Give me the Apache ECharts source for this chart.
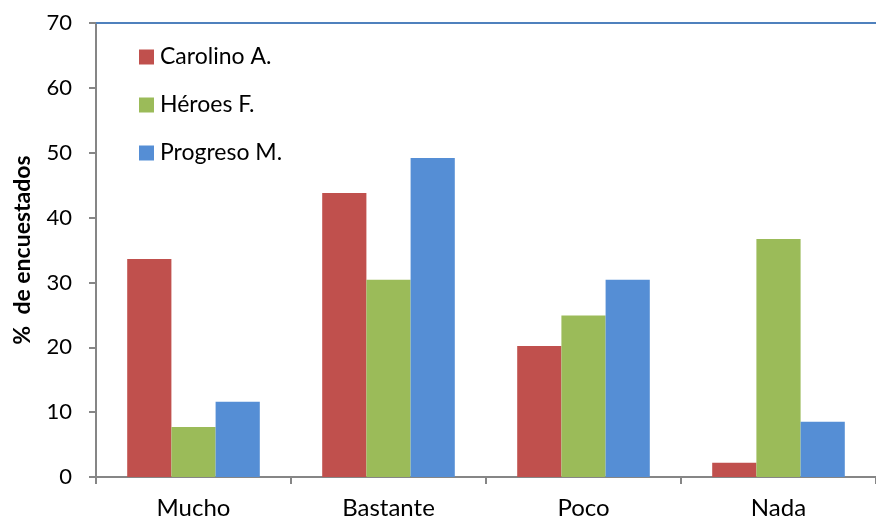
<!DOCTYPE html>
<html><head><meta charset="utf-8">
<script src="https://cdn.jsdelivr.net/npm/echarts@6/dist/echarts.min.js"></script>
<style>html,body{margin:0;padding:0;background:#fff}#c{width:876px;height:523px}</style>
</head><body><div id="c"></div>
<script>
const categories = ['Mucho', 'Bastante', 'Poco', 'Nada'];
const seriesNames = ['Carolino A.', 'Héroes F.', 'Progreso M.'];
const carolino = [33.6, 43.8, 20.2, 2.2];
const heroes = [7.7, 30.4, 24.9, 36.7];
const progreso = [11.6, 49.2, 30.4, 8.5];
const yTicks = [0, 10, 20, 30, 40, 50, 60, 70];
const colors = ['#C0504D', '#9BBB59', '#558ED5'];
const font = 'Lato, "Open Sans", sans-serif';

const chart = echarts.init(document.getElementById('c'), null, {renderer: 'canvas'});
const values = [carolino, heroes, progreso];
chart.setOption({
  animation: false,
  textStyle: {fontFamily: font},
  grid: {left: 96, right: 0, top: 23, bottom: 46},
  legend: {
    orient: 'vertical', left: 134, top: 40, itemGap: 24,
    itemWidth: 15, itemHeight: 15, icon: 'rect',
    textStyle: {fontSize: 23, lineHeight: 24, color: '#000', fontFamily: font, padding: [0, 0, 0, 1]},
    data: seriesNames
  },
  xAxis: [{
    type: 'category', data: categories,
    axisLine: {lineStyle: {color: '#868686', width: 2}},
    axisTick: {show: true, alignWithLabel: false, length: 7, lineStyle: {color: '#868686', width: 2}},
    axisLabel: {fontSize: 24, color: '#000', margin: 19, fontFamily: font}
  }, {
    type: 'category', data: categories, position: 'top',
    axisLine: {show: true, lineStyle: {color: '#4F81BD', width: 2}},
    axisTick: {show: false}, axisLabel: {show: false}
  }],
  yAxis: {
    type: 'value', min: yTicks[0], max: yTicks[yTicks.length - 1], interval: 10,
    name: '%  de encuestados', nameLocation: 'middle', nameGap: 62,
    nameTextStyle: {fontSize: 23, fontWeight: 'bold', color: '#000', fontFamily: font},
    axisLine: {show: true, lineStyle: {color: '#868686', width: 2}},
    axisTick: {show: true, length: 7, lineStyle: {color: '#868686', width: 2}},
    axisLabel: {fontSize: 22, color: '#000', margin: 24, fontFamily: font},
    splitLine: {show: false}
  },
  series: seriesNames.map((n, i) => ({
    name: n, type: 'bar', data: values[i], xAxisIndex: 0,
    barGap: '0%', barCategoryGap: '32%',
    itemStyle: {color: colors[i]}
  }))
});
</script></body></html>
